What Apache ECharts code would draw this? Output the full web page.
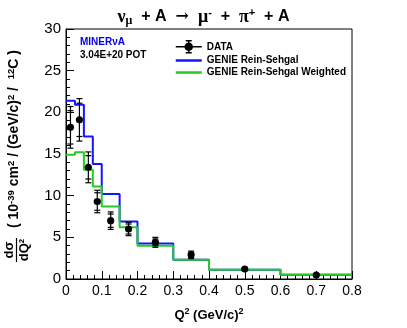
<!DOCTYPE html>
<html>
<head>
<meta charset="utf-8">
<script src="https://cdn.jsdelivr.net/npm/echarts@6/dist/echarts.min.js"></script>
<style>
  html, body { margin: 0; padding: 0; background: #fff; }
  #main { width: 407px; height: 328px; }
</style>
</head>
<body>
<div id="main"></div>
<script>
// Q2 bin edges (GeV/c)^2
var binEdges = [0, 0.025, 0.05, 0.075, 0.1, 0.15, 0.2, 0.3, 0.4, 0.6, 0.8];
// GENIE predictions, 1e-39 cm2/(GeV/c)2/12C
var genieRS = [21.4, 20.9, 17.1, 13.8, 10.2, 6.9, 4.25, 2.3, 1.1, 0.5];
var genieRSWeighted = [14.9, 15.2, 13.1, 11.1, 8.7, 6.2, 4.0, 2.3, 1.1, 0.5];
// data with stat and total errors
var dataY = [18.2, 19.1, 13.4, 9.3, 7.0, 6.0, 4.4, 2.9, 1.2, 0.48];
var statErr = [2.0, 2.0, 1.4, 1.05, 0.8, 0.6, 0.4, 0.3, 0.1, 0.07];
var totErr = [2.5, 2.55, 1.85, 1.35, 1.05, 0.8, 0.6, 0.45, 0.15, 0.1];

var FONT = 'Liberation Sans';
var BLUE = '#1414ff', GREEN = '#22cc22';

function histLine(vals) {
  var pts = [];
  for (var i = 0; i < vals.length; i++) {
    pts.push([binEdges[i], vals[i]]);
    pts.push([binEdges[i + 1], vals[i]]);
  }
  return pts;
}

var dataPts = [];
for (var i = 0; i < dataY.length; i++) {
  var xc = (binEdges[i] + binEdges[i + 1]) / 2;
  dataPts.push([xc, dataY[i], statErr[i], totErr[i]]);
}

var chart = echarts.init(document.getElementById('main'));

var yRich = {
  b: { fontFamily: FONT, fontWeight: 'bold', fontSize: 14, fill: '#000' },
  s: { fontFamily: FONT, fontWeight: 'bold', fontSize: 9.5, fill: '#000', verticalAlign: 'top', padding: [0, 0, 6, 0] }
};

chart.setOption({
  animation: false,
  title: {
    left: 'center',
    top: 2,
    text: '{g|ν}{sub|μ}{b|  + A  }{a|→}{g|  μ}{sup|-}{b|  +  }{g|π}{sup|+}{b|  + A}',
    textStyle: {
      rich: {
        g: { fontFamily: 'Liberation Serif', fontSize: 18, color: '#000' },
        a: { fontFamily: 'DejaVu Serif', fontSize: 16, color: '#000' },
        sub: { fontFamily: 'Liberation Serif', fontSize: 12, color: '#000', verticalAlign: 'bottom', padding: [8, 0, 0, 0] },
        sup: { fontFamily: FONT, fontSize: 11, color: '#000', verticalAlign: 'top', padding: [0, 0, 8, 0] },
        b: { fontFamily: FONT, fontWeight: 'bold', fontSize: 16, color: '#000' }
      }
    }
  },
  grid: {
    left: 66, right: 55, top: 29, bottom: 49,
    show: true, borderColor: '#000', borderWidth: 1
  },
  legend: {
    left: 170, top: 35, orient: 'vertical',
    itemWidth: 26, itemHeight: 14, itemGap: 2,
    symbolKeepAspect: true,
    textStyle: { fontFamily: FONT, fontWeight: 'bold', fontSize: 10, color: '#000' },
    data: [
      { name: 'DATA',
        icon: 'path://M0,7L26,7M13,1L13,13M10,1L16,1M10,13L16,13M16.5,7A3.5,3.5,0,1,1,9.5,7A3.5,3.5,0,1,1,16.5,7Z',
        itemStyle: { color: '#000', borderColor: '#000', borderWidth: 1.5 } },
      { name: 'GENIE Rein-Sehgal', icon: 'path://M0,0L26,0L26,2.5L0,2.5Z',
        itemStyle: { color: BLUE, borderWidth: 0 } },
      { name: 'GENIE Rein-Sehgal Weighted', icon: 'path://M0,0L26,0L26,2.5L0,2.5Z',
        itemStyle: { color: GREEN, borderWidth: 0 } }
    ]
  },
  xAxis: {
    type: 'value', min: 0, max: 0.8, interval: 0.1,
    name: '{b|Q}{s|2}{b| (GeV/c)}{s|2}',
    nameLocation: 'middle', nameGap: 28,
    nameTextStyle: {
      rich: {
        b: { fontFamily: FONT, fontWeight: 'bold', fontSize: 13, color: '#000' },
        s: { fontFamily: FONT, fontWeight: 'bold', fontSize: 9, color: '#000', verticalAlign: 'top', padding: [0, 0, 7, 0] }
      }
    },
    axisLine: { lineStyle: { color: '#000', width: 1 } },
    axisTick: { inside: true, length: 8, lineStyle: { color: '#000' } },
    minorTick: { show: true, splitNumber: 5, length: 4, lineStyle: { color: '#000' } },
    splitLine: { show: false },
    axisLabel: {
      fontFamily: FONT, fontSize: 14, color: '#000', margin: 5,
      formatter: function (v) { return v === 0 ? '0' : (+v).toFixed(1); }
    }
  },
  yAxis: {
    type: 'value', min: 0, max: 30, interval: 5,
    axisLine: { show: true, lineStyle: { color: '#000', width: 1 } },
    axisTick: { show: true, inside: true, length: 8, lineStyle: { color: '#000' } },
    minorTick: { show: true, splitNumber: 5, length: 4, lineStyle: { color: '#000' } },
    splitLine: { show: false },
    axisLabel: { fontFamily: FONT, fontSize: 15, color: '#000', margin: 5 }
  },
  graphic: [
    {
      type: 'group', x: 16.5, y: 250, rotation: Math.PI / 2,
      children: [
        { type: 'text', style: { text: 'dσ', x: 0, y: -1, align: 'center', verticalAlign: 'bottom',
          fontFamily: FONT, fontWeight: 'bold', fontSize: 13, fill: '#000' } },
        { type: 'line', shape: { x1: -12, y1: 0, x2: 12, y2: 0 }, style: { stroke: '#000', lineWidth: 1.2 } },
        { type: 'text', style: { text: 'dQ²', x: 0, y: 1, align: 'center', verticalAlign: 'top',
          fontFamily: FONT, fontWeight: 'bold', fontSize: 13, fill: '#000' } },
        { type: 'text', style: {
          text: '{b|( 10}{s|-39}{b| cm}{s|2}{b| / (GeV/c)}{s|2}{b| /  }{s|12}{b|C )}',
          rich: yRich, x: 22, y: -2.5, align: 'left', verticalAlign: 'middle' } }
      ]
    },
    { type: 'text', left: 80, top: 37, style: { text: 'MINERνA', fontFamily: FONT, fontWeight: 'bold', fontSize: 10, fill: '#0000ee' } },
    { type: 'text', left: 80, top: 50, style: { text: '3.04E+20 POT', fontFamily: FONT, fontWeight: 'bold', fontSize: 10, fill: '#000' } }
  ],
  series: [
    {
      name: 'GENIE Rein-Sehgal', type: 'line', data: histLine(genieRS),
      symbol: 'none', color: BLUE, lineStyle: { width: 2, color: BLUE }, z: 2
    },
    {
      name: 'GENIE Rein-Sehgal Weighted', type: 'line', data: histLine(genieRSWeighted),
      symbol: 'none', color: GREEN, lineStyle: { width: 2, color: GREEN }, z: 3
    },
    {
      name: 'DATA', type: 'custom', data: dataPts, z: 4,
      encode: { x: 0, y: 1 },
      renderItem: function (params, api) {
        var x = api.value(0), y = api.value(1), s = api.value(2), t = api.value(3);
        var top = api.coord([x, y + t]), bot = api.coord([x, y - t]);
        var sTop = api.coord([x, y + s]), sBot = api.coord([x, y - s]);
        var c = api.coord([x, y]);
        var w = 3;
        var st = { stroke: '#000', lineWidth: 1.2 };
        function cap(p) { return { type: 'line', shape: { x1: p[0] - w, y1: p[1], x2: p[0] + w, y2: p[1] }, style: st }; }
        return {
          type: 'group',
          children: [
            { type: 'line', shape: { x1: top[0], y1: top[1], x2: bot[0], y2: bot[1] }, style: st },
            cap(top), cap(bot), cap(sTop), cap(sBot),
            { type: 'circle', shape: { cx: c[0], cy: c[1], r: 3.6 }, style: { fill: '#000' } }
          ]
        };
      }
    }
  ]
});
</script>
</body>
</html>
